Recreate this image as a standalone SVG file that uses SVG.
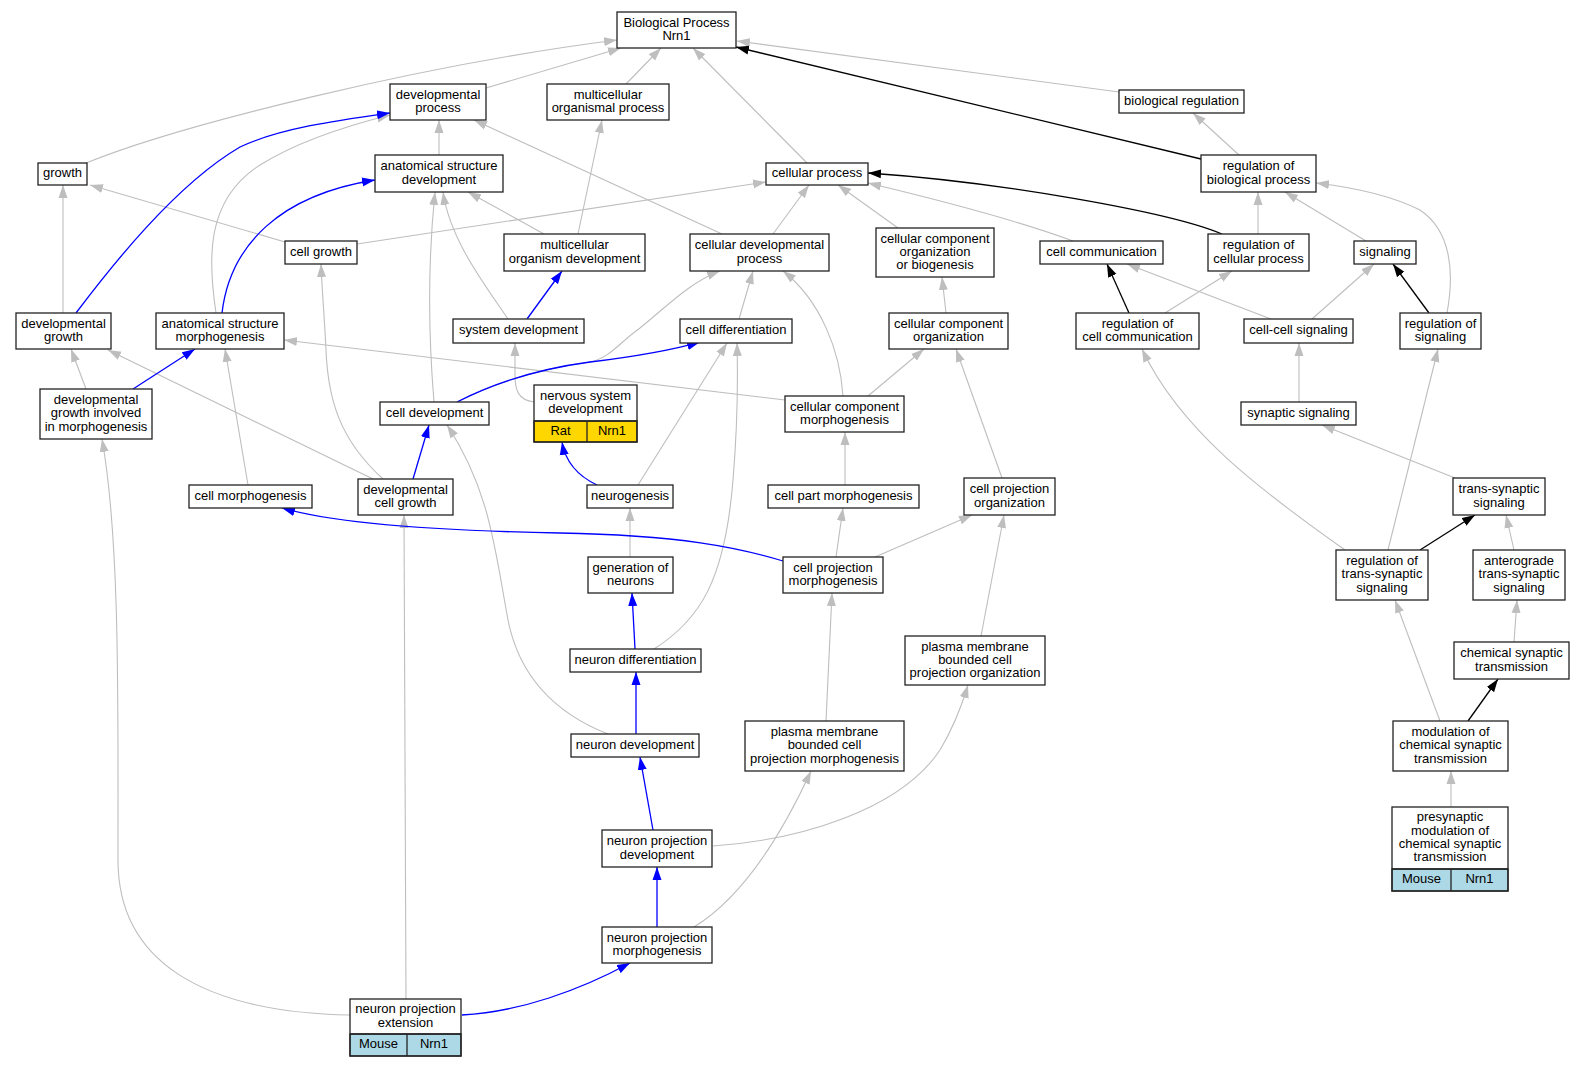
<svg xmlns="http://www.w3.org/2000/svg" width="1585" height="1067" viewBox="0 0 1585 1067">
<style>
.n rect{fill:#fff;stroke:#222;stroke-width:1.3}
.n line{stroke:#222;stroke-width:1.3}
text{font-family:"Liberation Sans",Arial,sans-serif;font-size:13px;fill:#000;text-anchor:middle}
.e path{fill:none;stroke:#BEBEBE;stroke-width:1.1;marker-end:url(#ag)}
.b path{fill:none;stroke:#0000FF;stroke-width:1.3;marker-end:url(#ab)}
.k path{fill:none;stroke:#000;stroke-width:1.3;marker-end:url(#ak)}
rect.y{fill:#FFD700}
rect.lb{fill:#ADD8E6}
</style>
<defs>
<marker id="ag" markerUnits="userSpaceOnUse" markerWidth="14" markerHeight="10" viewBox="0 0 14 10" refX="13" refY="5" orient="auto"><path d="M0,0.5 L13,5 L0,9.5 z" fill="#BEBEBE"/></marker>
<marker id="ab" markerUnits="userSpaceOnUse" markerWidth="14" markerHeight="10" viewBox="0 0 14 10" refX="13" refY="5" orient="auto"><path d="M0,0.5 L13,5 L0,9.5 z" fill="#0000FF"/></marker>
<marker id="ak" markerUnits="userSpaceOnUse" markerWidth="14" markerHeight="10" viewBox="0 0 14 10" refX="13" refY="5" orient="auto"><path d="M0,0.5 L13,5 L0,9.5 z" fill="#000"/></marker>
</defs>
<rect width="1585" height="1067" fill="#fff"/>
<g id="connectors">
<g class="e">
<path d="M486,88 L621,48"/>
<path d="M86,163 C180,125 420,65 617,40"/>
<path d="M626,84 L661,48"/>
<path d="M807,163 L693,48"/>
<path d="M1119,92 L737,41"/>
<path d="M439,155 L439,120"/>
<path d="M722,234 L474,120"/>
<path d="M216,313 C208,260 205,200 260,165 C300,140 350,125 390,115"/>
<path d="M578,234 L602,120"/>
<path d="M544,234 L468,192"/>
<path d="M508,319 C485,285 450,240 443,192"/>
<path d="M434,402 C428,330 428,260 435,192"/>
<path d="M285,242 L90,185"/>
<path d="M357,244 L766,182"/>
<path d="M63,313 L63,185"/>
<path d="M773,234 L809,185"/>
<path d="M898,228 L838,185"/>
<path d="M1073,241 C1030,225 960,205 868,183"/>
<path d="M1258,234 L1258,192"/>
<path d="M1239,155 L1193,113"/>
<path d="M1366,241 L1285,192"/>
<path d="M1447,313 C1455,270 1450,230 1420,210 C1390,195 1350,187 1316,183"/>
<path d="M1312,319 L1374,264"/>
<path d="M1271,319 L1127,264"/>
<path d="M1165,313 L1232,271"/>
<path d="M946,313 L942,277"/>
<path d="M739,319 L753,271"/>
<path d="M457,402 C500,380 545,368 590,362 C610,358 620,342 640,328 C665,308 690,282 720,271"/>
<path d="M843,396 C840,350 820,300 783,271"/>
<path d="M868,396 L924,349"/>
<path d="M785,400 L284,340"/>
<path d="M845,485 L845,432"/>
<path d="M836,557 L843,508"/>
<path d="M875,557 L972,515"/>
<path d="M1002,478 L956,349"/>
<path d="M383,479 C340,440 328,400 326,350 C324,310 322,290 321,264"/>
<path d="M373,479 L108,350"/>
<path d="M86,389 L71,349"/>
<path d="M248,485 L225,349"/>
<path d="M350,1015 C200,1012 118,960 118,860 C118,700 120,540 102,439"/>
<path d="M406,999 L404,515"/>
<path d="M694,927 C730,905 770,860 811,771"/>
<path d="M713,846 C800,840 900,810 940,750 C955,725 962,705 968,685"/>
<path d="M608,734 C560,715 520,680 508,620 C495,550 490,490 447,425"/>
<path d="M654,649 C700,620 725,580 733,480 C738,420 738,380 737,343"/>
<path d="M630,557 L630,508"/>
<path d="M638,485 L727,343"/>
<path d="M534,402 C518,400 515,390 515,375 L515,343"/>
<path d="M981,636 L1004,515"/>
<path d="M826,721 L832,593"/>
<path d="M1299,402 L1299,343"/>
<path d="M1455,478 L1322,425"/>
<path d="M1388,550 L1438,349"/>
<path d="M1345,550 C1260,490 1180,430 1142,349"/>
<path d="M1514,550 L1506,515"/>
<path d="M1514,642 L1517,600"/>
<path d="M1440,721 L1395,600"/>
<path d="M1451,807 L1451,771"/>
</g>
<g class="b">
<path d="M76,313 C110,268 175,185 240,147 C280,128 340,120 390,113"/>
<path d="M222,313 C230,245 280,195 375,180"/>
<path d="M527,319 L562,271"/>
<path d="M457,402 C500,380 545,368 590,362 C630,357 665,352 700,342"/>
<path d="M783,561 C740,548 680,535 560,533 C450,531 340,525 282,508"/>
<path d="M413,479 L429,425"/>
<path d="M133,389 L195,349"/>
<path d="M462,1015 C520,1012 580,990 630,963"/>
<path d="M657,927 L657,867"/>
<path d="M653,830 L640,757"/>
<path d="M636,734 L636,672"/>
<path d="M635,649 L632,593"/>
<path d="M597,485 C580,477 566,465 562,442"/>
</g>
<g class="k">
<path d="M1201,159 L736,47"/>
<path d="M1222,234 C1170,212 1000,182 868,173"/>
<path d="M1429,313 L1393,264"/>
<path d="M1129,313 L1107,264"/>
<path d="M1420,550 L1475,515"/>
<path d="M1468,721 L1498,679"/>
</g>
</g>
<g id="bp" class="n"><rect x="617" y="12" width="119" height="36"/><text x="676.5" y="26.7">Biological Process</text><text x="676.5" y="40">Nrn1</text></g>
<g id="devproc" class="n"><rect x="390" y="84" width="96" height="36"/><text x="438" y="98.7">developmental</text><text x="438" y="112">process</text></g>
<g id="mop" class="n"><rect x="547" y="84" width="122" height="36"/><text x="608" y="98.7">multicellular</text><text x="608" y="112">organismal process</text></g>
<g id="bioreg" class="n"><rect x="1119" y="90" width="125" height="23"/><text x="1181.5" y="104.8">biological regulation</text></g>
<g id="growth" class="n"><rect x="38" y="163" width="49" height="22"/><text x="62.5" y="177.3">growth</text></g>
<g id="asd" class="n"><rect x="375" y="155" width="128" height="37"/><text x="439" y="170.2">anatomical structure</text><text x="439" y="183.5">development</text></g>
<g id="cellproc" class="n"><rect x="766" y="163" width="102" height="22"/><text x="817" y="177.3">cellular process</text></g>
<g id="rbp" class="n"><rect x="1201" y="155" width="115" height="37"/><text x="1258.5" y="170.2">regulation of</text><text x="1258.5" y="183.5">biological process</text></g>
<g id="cellgrowth" class="n"><rect x="285" y="241" width="72" height="23"/><text x="321" y="255.8">cell growth</text></g>
<g id="mod" class="n"><rect x="504" y="234" width="141" height="37"/><text x="574.5" y="249.2">multicellular</text><text x="574.5" y="262.5">organism development</text></g>
<g id="cdp" class="n"><rect x="690" y="234" width="139" height="37"/><text x="759.5" y="249.2">cellular developmental</text><text x="759.5" y="262.5">process</text></g>
<g id="ccob" class="n"><rect x="876" y="228" width="118" height="49"/><text x="935" y="242.5">cellular component</text><text x="935" y="255.8">organization</text><text x="935" y="269.1">or biogenesis</text></g>
<g id="cellcomm" class="n"><rect x="1040" y="241" width="123" height="23"/><text x="1101.5" y="255.8">cell communication</text></g>
<g id="rcp" class="n"><rect x="1208" y="234" width="101" height="37"/><text x="1258.5" y="249.2">regulation of</text><text x="1258.5" y="262.5">cellular process</text></g>
<g id="signaling" class="n"><rect x="1354" y="241" width="62" height="23"/><text x="1385" y="255.8">signaling</text></g>
<g id="devgrowth" class="n"><rect x="16" y="313" width="95" height="36"/><text x="63.5" y="327.7">developmental</text><text x="63.5" y="341">growth</text></g>
<g id="asm" class="n"><rect x="156" y="313" width="128" height="36"/><text x="220" y="327.7">anatomical structure</text><text x="220" y="341">morphogenesis</text></g>
<g id="sysdev" class="n"><rect x="453" y="319" width="131" height="24"/><text x="518.5" y="334.3">system development</text></g>
<g id="celldiff" class="n"><rect x="680" y="319" width="112" height="24"/><text x="736" y="334.3">cell differentiation</text></g>
<g id="cco" class="n"><rect x="889" y="313" width="119" height="36"/><text x="948.5" y="327.7">cellular component</text><text x="948.5" y="341">organization</text></g>
<g id="rcc" class="n"><rect x="1076" y="313" width="123" height="36"/><text x="1137.5" y="327.7">regulation of</text><text x="1137.5" y="341">cell communication</text></g>
<g id="ccs" class="n"><rect x="1244" y="319" width="109" height="24"/><text x="1298.5" y="334.3">cell-cell signaling</text></g>
<g id="rsig" class="n"><rect x="1400" y="313" width="81" height="36"/><text x="1440.5" y="327.7">regulation of</text><text x="1440.5" y="341">signaling</text></g>
<g id="dgim" class="n"><rect x="40" y="389" width="112" height="50"/><text x="96" y="404">developmental</text><text x="96" y="417.3">growth involved</text><text x="96" y="430.6">in morphogenesis</text></g>
<g id="celldev" class="n"><rect x="380" y="402" width="109" height="23"/><text x="434.5" y="416.8">cell development</text></g>
<g id="nsd" class="n"><rect class="y" x="534" y="421" width="103" height="21"/><rect x="534" y="385" width="103" height="57" style="fill:none"/><line x1="534" y1="421" x2="637" y2="421"/><line x1="587" y1="421" x2="587" y2="442"/><text x="585.5" y="399.7">nervous system</text><text x="585.5" y="413">development</text><text x="560.5" y="434.8">Rat</text><text x="612" y="434.8">Nrn1</text></g>
<g id="ccm" class="n"><rect x="785" y="396" width="119" height="36"/><text x="844.5" y="410.7">cellular component</text><text x="844.5" y="424">morphogenesis</text></g>
<g id="synsig" class="n"><rect x="1241" y="402" width="115" height="23"/><text x="1298.5" y="416.8">synaptic signaling</text></g>
<g id="cellmorph" class="n"><rect x="189" y="485" width="123" height="23"/><text x="250.5" y="499.8">cell morphogenesis</text></g>
<g id="dcg" class="n"><rect x="358" y="479" width="95" height="36"/><text x="405.5" y="493.7">developmental</text><text x="405.5" y="507">cell growth</text></g>
<g id="neurogenesis" class="n"><rect x="587" y="485" width="86" height="23"/><text x="630" y="499.8">neurogenesis</text></g>
<g id="cpart" class="n"><rect x="768" y="485" width="151" height="23"/><text x="843.5" y="499.8">cell part morphogenesis</text></g>
<g id="cpo" class="n"><rect x="964" y="478" width="91" height="37"/><text x="1009.5" y="493.2">cell projection</text><text x="1009.5" y="506.5">organization</text></g>
<g id="tss" class="n"><rect x="1453" y="478" width="92" height="37"/><text x="1499" y="493.2">trans-synaptic</text><text x="1499" y="506.5">signaling</text></g>
<g id="gon" class="n"><rect x="588" y="557" width="85" height="36"/><text x="630.5" y="571.7">generation of</text><text x="630.5" y="585">neurons</text></g>
<g id="cpmorph" class="n"><rect x="783" y="557" width="100" height="36"/><text x="833" y="571.7">cell projection</text><text x="833" y="585">morphogenesis</text></g>
<g id="rtss" class="n"><rect x="1336" y="550" width="92" height="50"/><text x="1382" y="565">regulation of</text><text x="1382" y="578.3">trans-synaptic</text><text x="1382" y="591.6">signaling</text></g>
<g id="ats" class="n"><rect x="1473" y="550" width="92" height="50"/><text x="1519" y="565">anterograde</text><text x="1519" y="578.3">trans-synaptic</text><text x="1519" y="591.6">signaling</text></g>
<g id="pmbcpo" class="n"><rect x="905" y="636" width="140" height="49"/><text x="975" y="650.5">plasma membrane</text><text x="975" y="663.8">bounded cell</text><text x="975" y="677.1">projection organization</text></g>
<g id="cst" class="n"><rect x="1454" y="642" width="115" height="37"/><text x="1511.5" y="657.2">chemical synaptic</text><text x="1511.5" y="670.5">transmission</text></g>
<g id="ndiff" class="n"><rect x="570" y="649" width="131" height="23"/><text x="635.5" y="663.8">neuron differentiation</text></g>
<g id="pmbcpm" class="n"><rect x="745" y="721" width="159" height="50"/><text x="824.5" y="736">plasma membrane</text><text x="824.5" y="749.3">bounded cell</text><text x="824.5" y="762.6">projection morphogenesis</text></g>
<g id="mcst" class="n"><rect x="1393" y="721" width="115" height="50"/><text x="1450.5" y="736">modulation of</text><text x="1450.5" y="749.3">chemical synaptic</text><text x="1450.5" y="762.6">transmission</text></g>
<g id="ndev" class="n"><rect x="571" y="734" width="128" height="23"/><text x="635" y="748.8">neuron development</text></g>
<g id="presyn" class="n"><rect class="lb" x="1392" y="869" width="116" height="22"/><rect x="1392" y="807" width="116" height="84" style="fill:none"/><line x1="1392" y1="869" x2="1508" y2="869"/><line x1="1451" y1="869" x2="1451" y2="891"/><text x="1450" y="821.4">presynaptic</text><text x="1450" y="834.7">modulation of</text><text x="1450" y="848">chemical synaptic</text><text x="1450" y="861.3">transmission</text><text x="1421.5" y="883.3">Mouse</text><text x="1479.5" y="883.3">Nrn1</text></g>
<g id="npd" class="n"><rect x="602" y="830" width="110" height="37"/><text x="657" y="845.2">neuron projection</text><text x="657" y="858.5">development</text></g>
<g id="npm" class="n"><rect x="602" y="927" width="110" height="36"/><text x="657" y="941.7">neuron projection</text><text x="657" y="955">morphogenesis</text></g>
<g id="npe" class="n"><rect class="lb" x="350" y="1034" width="111" height="22"/><rect x="350" y="999" width="111" height="57" style="fill:none"/><line x1="350" y1="1034" x2="461" y2="1034"/><line x1="407" y1="1034" x2="407" y2="1056"/><text x="405.5" y="1013.2">neuron projection</text><text x="405.5" y="1026.5">extension</text><text x="378.5" y="1048.3">Mouse</text><text x="434" y="1048.3">Nrn1</text></g>
</svg>
